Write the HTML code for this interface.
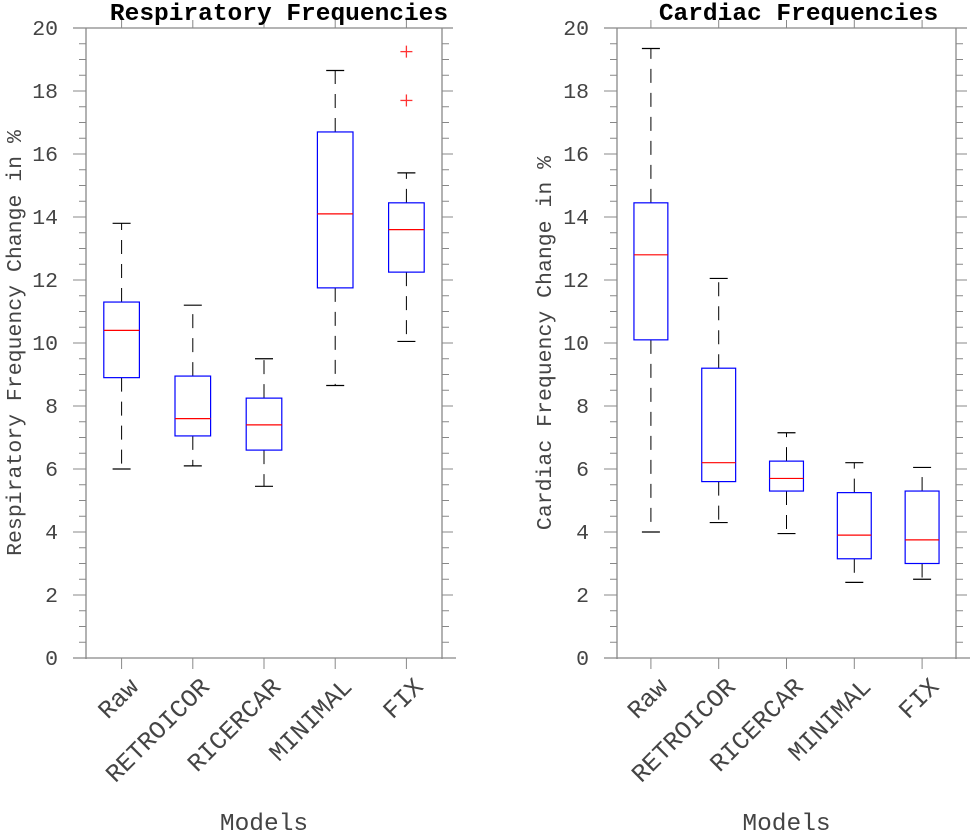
<!DOCTYPE html>
<html><head><meta charset="utf-8"><style>
html,body{margin:0;padding:0;background:#fff;}
svg{display:block;}
text{font-family:"Liberation Mono","DejaVu Sans Mono",monospace;fill:#444;}
</style></head><body>
<svg id="chart" width="970" height="831" viewBox="0 0 970 831"></svg>
<script>
const categories = ["Raw","RETROICOR","RICERCAR","MINIMAL","FIX"];
const respLow = [6.0, 6.1, 5.45, 8.65, 10.05];
const respQ1 = [8.9, 7.05, 6.6, 11.75, 12.25];
const respMed = [10.4, 7.6, 7.4, 14.1, 13.6];
const respQ3 = [11.3, 8.95, 8.25, 16.7, 14.45];
const respHigh = [13.8, 11.2, 9.5, 18.65, 15.4];
const respOutliers = [[], [], [], [], [19.25, 17.7]];
const cardLow = [4.0, 4.3, 3.95, 2.4, 2.5];
const cardQ1 = [10.1, 5.6, 5.3, 3.15, 3.0];
const cardMed = [12.8, 6.2, 5.7, 3.9, 3.75];
const cardQ3 = [14.45, 9.2, 6.25, 5.25, 5.3];
const cardHigh = [19.35, 12.05, 7.15, 6.2, 6.05];
const cardOutliers = [[], [], [], [], []];
const yTicks = [0,2,4,6,8,10,12,14,16,18,20];

const NS = "http://www.w3.org/2000/svg";
const svg = document.getElementById("chart");
function mk(tag, attrs, parent){
  const e = document.createElementNS(NS, tag);
  for (const k in attrs) e.setAttribute(k, attrs[k]);
  (parent||svg).appendChild(e);
  return e;
}
function panel(p){
  const g = mk("g", {});
  
  
  const L=p.left, R=p.right, T=28, B=658;
  const y = v => B - (v/20)*(B-T);
  const step = (R-L)/categories.length;
  const x = i => L + (i+0.5)*step;
  const ax = "#888";
  mk("line",{x1:L-13,y1:T,x2:R+11,y2:T,stroke:ax,"stroke-width":1.3},g);
  mk("line",{x1:L-13,y1:B,x2:R+14,y2:B,stroke:ax,"stroke-width":1.3},g);
  mk("line",{x1:L,y1:T,x2:L,y2:B+1,stroke:ax,"stroke-width":1.3},g);
  mk("line",{x1:R,y1:T,x2:R,y2:B+1,stroke:ax,"stroke-width":1.3},g);
  for (let v=0; v<=20; v+=0.5){
    const major = Math.abs(v%2)<1e-9;
    const yy=y(v);
    mk("line",{x1:L-(major?13:7),y1:yy,x2:L,y2:yy,stroke:ax,"stroke-width":1},g);
    mk("line",{x1:R,y1:yy,x2:R+(major?11:7),y2:yy,stroke:ax,"stroke-width":1},g);
  }
  yTicks.forEach(v=>{
    const t=mk("text",{x:L-28,y:y(v)+7,"text-anchor":"end","font-size":21.5},g);
    t.textContent=v;
    
    
  });
  categories.forEach((c,i)=>{
    const xx=x(i);
    mk("line",{x1:xx,y1:B,x2:xx,y2:B+11,stroke:ax,"stroke-width":1},g);
    mk("line",{x1:xx,y1:T,x2:xx,y2:T-8,stroke:ax,"stroke-width":1},g);
    const t=mk("text",{x:0,y:0,"text-anchor":"end","font-size":25,transform:`translate(${xx+18},${B+30}) rotate(-45)`},g);
    t.textContent=c;
    
    
    const bw=step/2, cw=18;
    const bg=mk("g",{},g);
    
    
    const d={stroke:"#000","stroke-width":1,"stroke-dasharray":"14,10"};
    mk("line",Object.assign({x1:xx,y1:y(p.q3[i]),x2:xx,y2:y(p.high[i])},d),bg);
    mk("line",Object.assign({x1:xx,y1:y(p.q1[i]),x2:xx,y2:y(p.low[i])},d),bg);
    mk("line",{x1:xx-cw/2,y1:y(p.high[i]),x2:xx+cw/2,y2:y(p.high[i]),stroke:"#000","stroke-width":1.2},bg);
    mk("line",{x1:xx-cw/2,y1:y(p.low[i]),x2:xx+cw/2,y2:y(p.low[i]),stroke:"#000","stroke-width":1.2},bg);
    mk("rect",{x:xx-bw/2,y:y(p.q3[i]),width:bw,height:y(p.q1[i])-y(p.q3[i]),fill:"none",stroke:"#00f","stroke-width":1.2},bg);
    mk("line",{x1:xx-bw/2,y1:y(p.med[i]),x2:xx+bw/2,y2:y(p.med[i]),stroke:"#f00","stroke-width":1.2},bg);
    p.out[i].forEach(v=>{
      mk("line",{x1:xx-6,y1:y(v),x2:xx+6,y2:y(v),stroke:"#f33","stroke-width":1.3},bg);
      mk("line",{x1:xx,y1:y(v)-6,x2:xx,y2:y(v)+6,stroke:"#f33","stroke-width":1.3},bg);
    });
  });
  const tt=mk("text",{x:(L+R)/2+p.tdx,y:20,"text-anchor":"middle","font-size":24.5,"font-weight":"bold",style:"fill:#000"},g);
  tt.textContent=p.title;
  
  
  const yt=mk("text",{x:0,y:0,"text-anchor":"middle","font-size":21.5,transform:`translate(${p.ytx},${(T+B)/2}) rotate(-90)`},g);
  yt.textContent=p.ytitle;
  
  
  const xt=mk("text",{x:(L+R)/2,y:830,"text-anchor":"middle","font-size":24.5},g);
  xt.textContent="Models";
  
  
}
panel({name:"respiratory-panel",left:86,right:442,tdx:15,title:"Respiratory Frequencies",ytitle:"Respiratory Frequency Change in %",ytx:21,
  low:respLow,q1:respQ1,med:respMed,q3:respQ3,high:respHigh,out:respOutliers});
panel({name:"cardiac-panel",left:617,right:956,tdx:12,title:"Cardiac Frequencies",ytitle:"Cardiac Frequency Change in %",ytx:551,
  low:cardLow,q1:cardQ1,med:cardMed,q3:cardQ3,high:cardHigh,out:cardOutliers});
</script>
</body></html>
